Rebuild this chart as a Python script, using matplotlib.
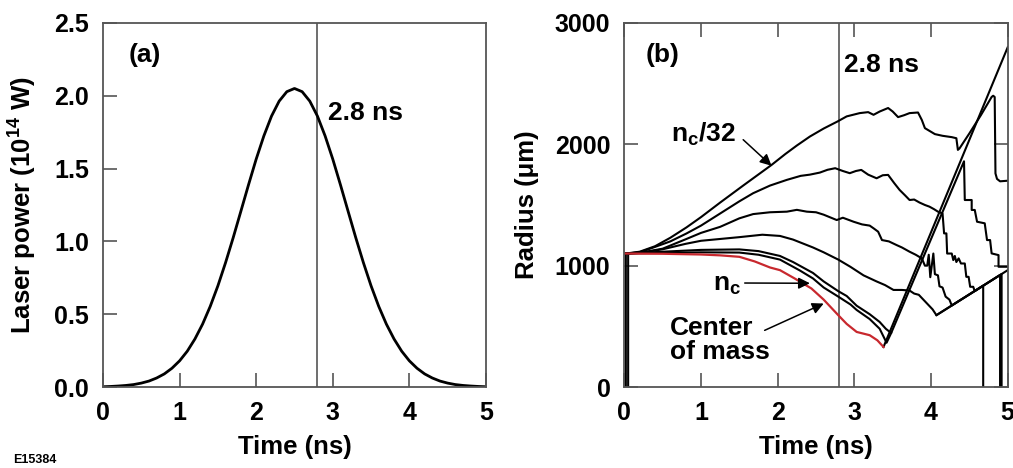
import numpy as np
import matplotlib
matplotlib.use('Agg')
from matplotlib import pyplot as plt
from matplotlib.ticker import FormatStrFormatter

# ---- panel (a): laser pulse, power in 1e14 W
pulse_t = np.linspace(0, 5, 51)
pulse_p = [0.002, 0.004, 0.007, 0.011, 0.017, 0.027, 0.041, 0.062, 0.090, 0.129,
           0.180, 0.246, 0.330, 0.432, 0.554, 0.695, 0.854, 1.026, 1.207, 1.389,
           1.565, 1.724, 1.860, 1.963, 2.028, 2.050, 2.028, 1.963, 1.860, 1.724,
           1.565, 1.389, 1.207, 1.026, 0.854, 0.695, 0.554, 0.432, 0.330, 0.246,
           0.180, 0.129, 0.090, 0.062, 0.041, 0.027, 0.017, 0.011, 0.007, 0.004, 0.002]

t_mark = 2.8

# ---- panel (b): radius of density contours (um)
# bottom line that the lower contours collapse onto
floor_t = [4.07, 4.68, 4.92, 5.0]
floor_r = [592, 835, 931, 963]

nc32_t = [0.02, 0.2, 0.4, 0.6, 0.81, 1.0, 1.25, 1.55, 1.92, 2.1, 2.25, 2.42, 2.6, 2.78, 2.9,
          3.07, 3.18, 3.25, 3.33, 3.44, 3.5, 3.57, 3.65, 3.72, 3.83, 3.88, 3.92, 4.05, 4.15,
          4.27, 4.33, 4.35, 4.37, 4.5, 4.65, 4.79, 4.81, 4.83, 4.84, 4.86, 4.9, 5.0]
nc32_r = [1100, 1115, 1160, 1230, 1315, 1400, 1520, 1660, 1830, 1920, 1990, 2064, 2130, 2188, 2230,
          2257, 2265, 2243, 2270, 2299, 2270, 2224, 2240, 2257, 2262, 2200, 2133, 2084, 2070,
          2059, 2050, 1954, 1965, 2090, 2240, 2390, 2400, 2390, 1760, 1715, 1695, 1700]

nc16_t = [0.02, 0.2, 0.38, 0.6, 0.81, 1.0, 1.25, 1.5, 1.68, 1.9, 2.12, 2.3, 2.42, 2.55, 2.65,
          2.75, 2.85, 2.94, 3.02, 3.09, 3.18, 3.29, 3.37, 3.44, 3.52, 3.59, 3.66, 3.72, 3.78,
          3.85, 3.92, 3.98, 4.04, 4.09, 4.15, 4.17, 4.2, 4.21, 4.27, 4.29, 4.31, 4.33, 4.36,
          4.39, 4.44, 4.46, 4.49, 4.51, 4.55, 4.57, 4.6, 4.9, 4.9]
nc16_r = [1100, 1110, 1150, 1200, 1265, 1330, 1430, 1530, 1597, 1660, 1707, 1740, 1750, 1767, 1790,
          1803, 1780, 1762, 1780, 1789, 1750, 1720, 1745, 1748, 1680, 1624, 1580, 1541, 1545,
          1520, 1500, 1486, 1465, 1445, 1430, 1266, 1266, 1100, 1100, 1046, 1080, 1030, 1060,
          1018, 1018, 908, 908, 826, 826, 790, 803, 923, 0]

nc8_t = [0.02, 0.2, 0.5, 0.81, 1.0, 1.25, 1.5, 1.68, 1.9, 2.12, 2.25, 2.38, 2.5, 2.6, 2.77,
         2.85, 2.99, 3.1, 3.2, 3.25, 3.31, 3.36, 3.45, 3.55, 3.62, 3.72, 3.8, 3.88, 3.92,
         3.95, 3.97, 3.99, 4.03, 4.05, 4.09, 4.11, 4.15, 4.19, 4.24, 4.27, 4.92, 4.92]
nc8_r = [1100, 1105, 1140, 1220, 1270, 1320, 1390, 1425, 1440, 1445, 1460, 1445, 1440, 1420, 1376,
         1395, 1362, 1340, 1330, 1308, 1280, 1211, 1200, 1170, 1150, 1115, 1090, 1060, 1000,
         1000, 1090, 905, 1100, 930, 920, 830, 820, 745, 720, 672, 931, 0]

nc4_t = [0.02, 0.02, 0.25, 0.5, 0.8, 1.0, 1.25, 1.5, 1.8, 2.03, 2.2, 2.46, 2.6, 2.79, 2.95,
         3.12, 3.29, 3.4, 3.51, 3.62, 3.72, 3.78, 3.84, 3.9, 3.96, 4.02, 4.07, 4.68, 4.68]
nc4_r = [0, 1100, 1110, 1135, 1180, 1205, 1220, 1235, 1255, 1245, 1215, 1150, 1110, 1050, 990,
         920, 870, 840, 800, 800, 795, 770, 760, 720, 680, 640, 592, 835, 0]

nc2_t = [0.05, 0.05, 0.5, 1.0, 1.5, 1.75, 2.03, 2.2, 2.46, 2.6, 2.79, 2.9, 3.03, 3.2, 3.33,
         3.41, 3.48, 4.43, 4.44, 4.53, 4.53, 4.57, 4.6, 4.7, 4.73, 4.77, 4.79, 4.88,
         4.88, 5.0]
nc2_r = [0, 1100, 1115, 1130, 1134, 1120, 1080, 1030, 940, 870, 790, 750, 670, 600, 536,
         480, 445, 1860, 1541, 1541, 1459, 1459, 1362, 1349, 1211, 1211, 1101, 1087,
         991, 991]

nc_t = [0.02, 0.5, 1.0, 1.5, 1.75, 2.03, 2.29, 2.46, 2.6, 2.79, 2.95, 3.03, 3.2, 3.33, 3.42, 3.48]
nc_r = [1100, 1105, 1110, 1108, 1090, 1050, 960, 895, 820, 745, 680, 635, 560, 480, 365, 445]

com_t = [0.0, 0.5, 1.0, 1.25, 1.5, 1.7, 1.9, 2.03, 2.22, 2.44, 2.6, 2.79, 2.9, 3.03, 3.2, 3.3, 3.38]
com_r = [1100, 1098, 1092, 1085, 1073, 1035, 985, 963, 895, 812, 720, 592, 520, 454, 427, 385, 330]

# rebound of the shell after stagnation
shell_t = [3.38, 5.0]
shell_r = [330, 2800]

RED = '#c8282e'
GRAY = '#555555'

plt.rcParams['font.family'] = ['Liberation Sans', 'DejaVu Sans']
plt.rcParams['font.weight'] = 'bold'
plt.rcParams['mathtext.fontset'] = 'custom'
plt.rcParams['mathtext.rm'] = 'Liberation Sans:bold'
plt.rcParams['mathtext.it'] = 'Liberation Sans:bold'
plt.rcParams['mathtext.bf'] = 'Liberation Sans:bold'


def style_axes(ax, all_sides):
    for s in ax.spines.values():
        s.set_color(GRAY)
        s.set_linewidth(1.3)
    ax.tick_params(direction='in', length=10, width=1.2, color=GRAY, labelsize=18,
                   top=all_sides, right=all_sides, pad=10)
    ax.set_xlim(0, 5)
    ax.set_xticks(range(6))
    ax.axvline(t_mark, color=GRAY, lw=1.2, zorder=1)
    ax.set_xlabel('Time (ns)', fontsize=18.5, fontweight='bold', labelpad=7)


fig = plt.figure(figsize=(10.13, 4.68), dpi=100)
ax_a = fig.add_axes([0.1017, 0.173, 0.378, 0.778])
ax_b = fig.add_axes([0.6163, 0.173, 0.3785, 0.778])

# (a)
style_axes(ax_a, False)
ax_a.plot(pulse_t, pulse_p, color='black', lw=2.0)
ax_a.set_ylim(0, 2.5)
ax_a.set_yticks(np.arange(0, 2.51, 0.5))
ax_a.yaxis.set_major_formatter(FormatStrFormatter('%.1f'))
ax_a.set_ylabel('Laser power (10$^{14}$ W)', fontsize=18.5, fontweight='bold')
ax_a.yaxis.set_label_coords(-0.167, 0.5)
ax_a.text(0.55, 2.28, '(a)', fontsize=19, ha='center', va='center')
ax_a.text(2.94, 1.88, '2.8 ns', fontsize=19, ha='left', va='center')

# (b)
style_axes(ax_b, True)
for tt, rr in [(nc32_t, nc32_r), (nc16_t, nc16_r), (nc8_t, nc8_r), (nc4_t, nc4_r),
               (nc2_t, nc2_r), (nc_t, nc_r), (floor_t, floor_r), (shell_t, shell_r)]:
    ax_b.plot(tt, rr, color='black', lw=1.5)
ax_b.plot(com_t, com_r, color=RED, lw=1.6)
ax_b.set_ylim(0, 3000)
ax_b.set_yticks([0, 1000, 2000, 3000])
ax_b.set_ylabel('Radius (μm)', fontsize=18.5, fontweight='bold')
ax_b.yaxis.set_label_coords(-0.223, 0.5)

ax_b.text(0.5, 2739, '(b)', fontsize=19, ha='center', va='center')
ax_b.text(2.87, 2656, '2.8 ns', fontsize=19, ha='left', va='center')
ax_b.text(1.03, 2078, 'n$_\\mathrm{c}$/32', fontsize=19, ha='center', va='center')
ax_b.text(1.34, 837, 'n$_\\mathrm{c}$', fontsize=19, ha='center', va='center')
ax_b.text(0.6, 386, 'Center\nof mass', fontsize=19, ha='left', va='center', linespacing=1.0)

arrow = dict(arrowstyle='-|>', color='black', lw=1.1, mutation_scale=17, shrinkA=0, shrinkB=0)
ax_b.annotate('', xy=(1.92, 1823), xytext=(1.55, 2038), arrowprops=arrow)
ax_b.annotate('', xy=(2.42, 855), xytext=(1.57, 857), arrowprops=arrow)
ax_b.annotate('', xy=(2.6, 688), xytext=(1.83, 467), arrowprops=arrow)

fig.text(0.013, 0.004, 'E15384', fontsize=9, ha='left', va='bottom')

fig.savefig('out.png', dpi=100)
